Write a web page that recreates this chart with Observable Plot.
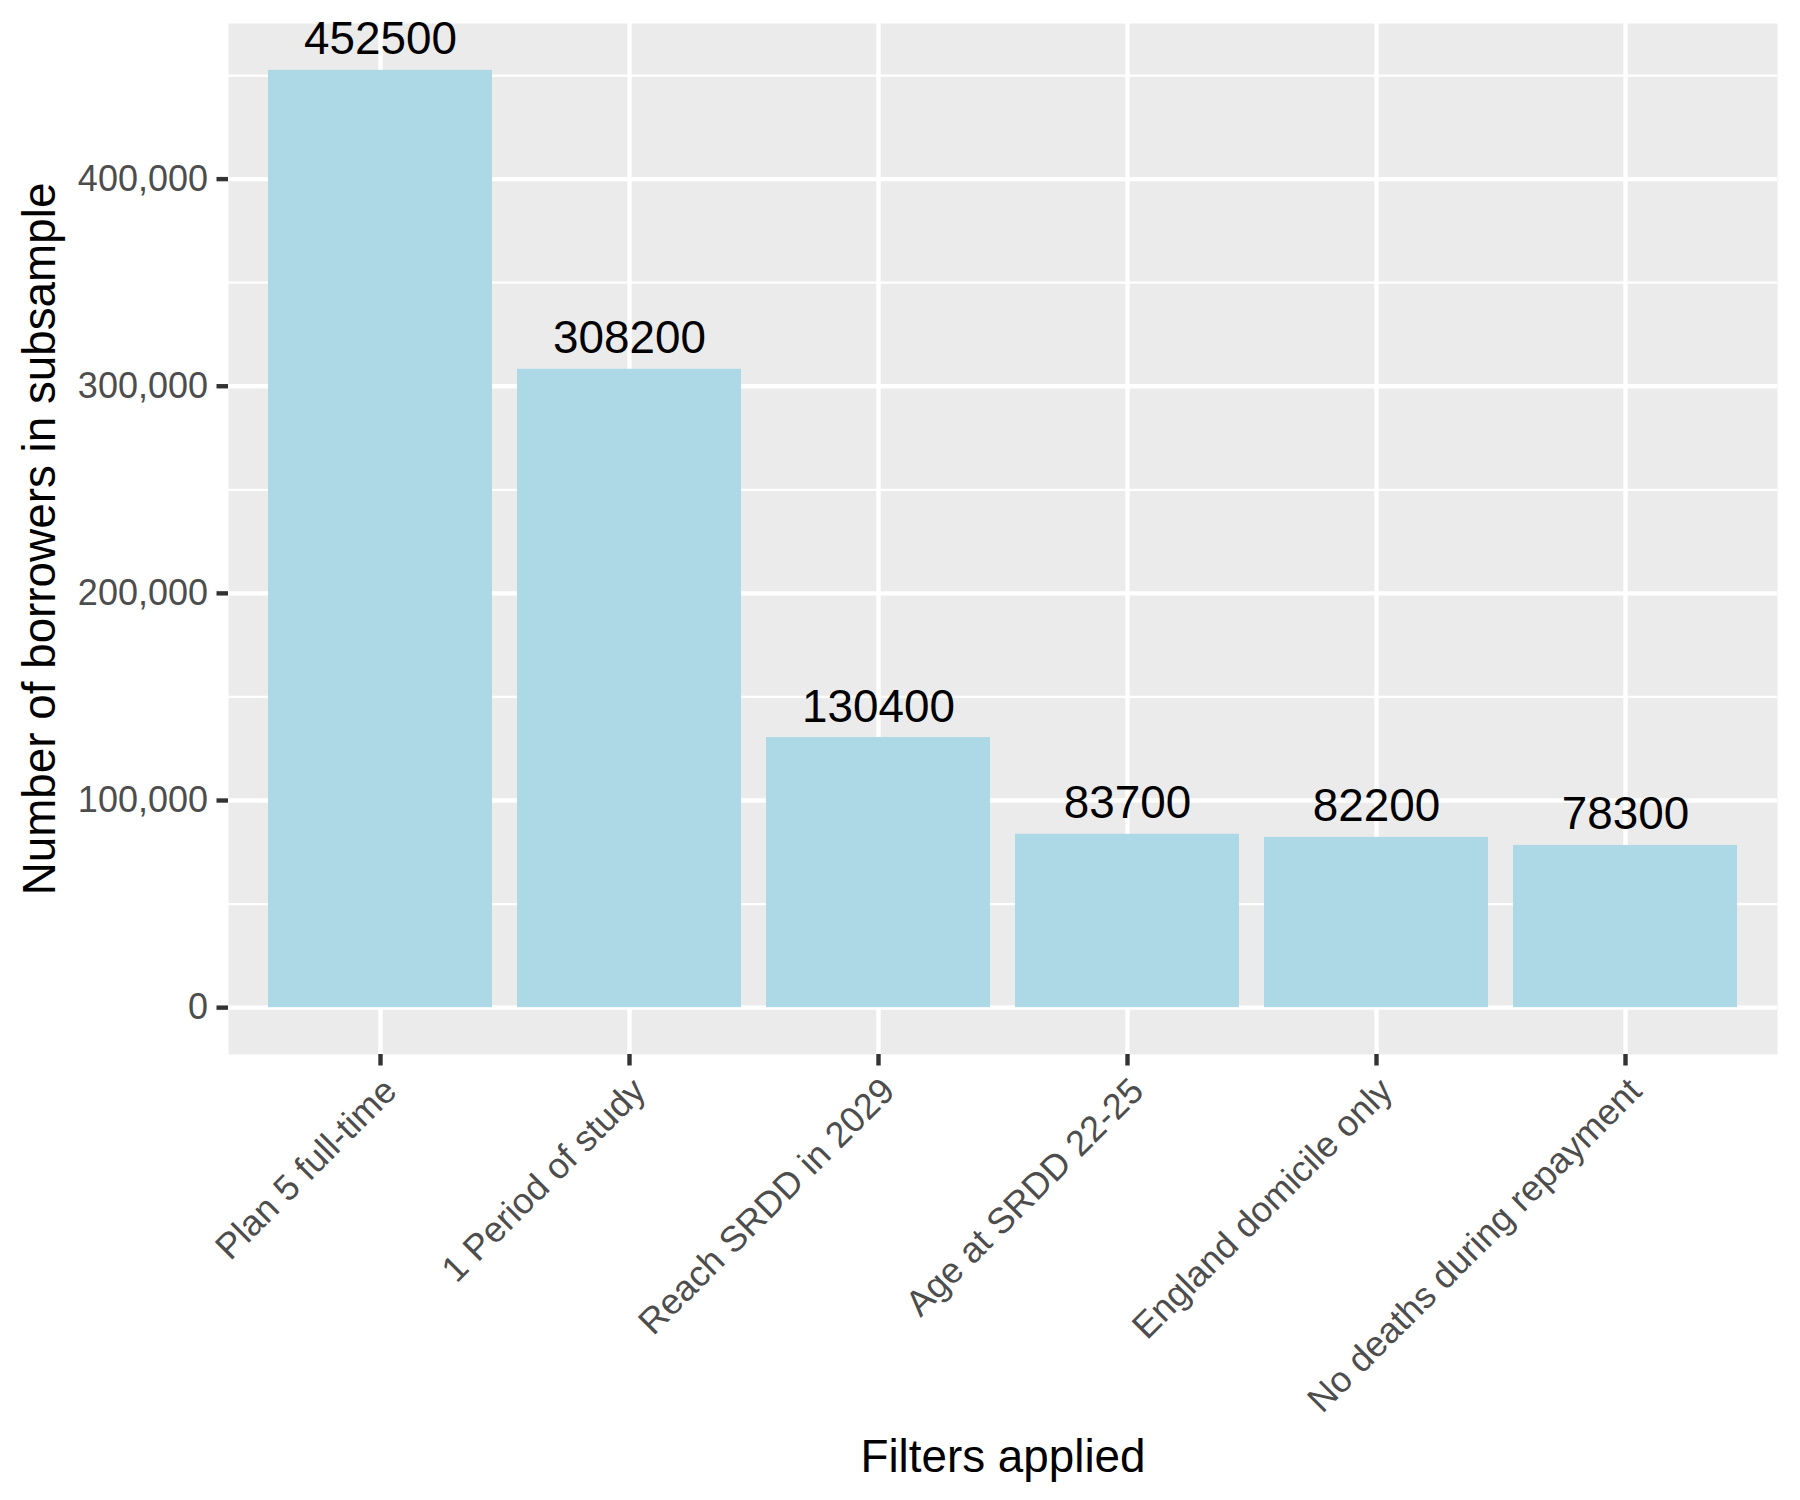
<!DOCTYPE html>
<html>
<head>
<meta charset="utf-8">
<script src="https://cdn.jsdelivr.net/npm/d3@7"></script>
<script src="https://cdn.jsdelivr.net/npm/@observablehq/plot@0.6"></script>
<style>
  html, body { margin: 0; padding: 0; background: #ffffff; }
  #chart { width: 1800px; height: 1500px; }
</style>
</head>
<body>
<div id="chart"></div>
<script>
const filters = [
  "Plan 5 full-time",
  "1 Period of study",
  "Reach SRDD in 2029",
  "Age at SRDD 22-25",
  "England domicile only",
  "No deaths during repayment"
];
const counts = [452500, 308200, 130400, 83700, 82200, 78300];
const yTicks = [0, 100000, 200000, 300000, 400000];
const yMinor = [50000, 150000, 250000, 350000, 450000];
const xTitle = "Filters applied";
const yTitle = "Number of borrowers in subsample";

const data = filters.map((f, i) => ({filter: f, count: counts[i]}));
const maxV = d3.max(counts);
const pad = maxV * 0.05;

const font = "'Liberation Sans', Arial, Helvetica, sans-serif";

const chart = Plot.plot({
  width: 1800,
  height: 1500,
  marginLeft: 228,
  marginRight: 23,
  marginTop: 23,
  marginBottom: 446,
  style: {fontFamily: font, fontSize: "36px", background: "#ffffff"},
  x: {type: "band", domain: filters, paddingInner: 0.1, paddingOuter: 0.15, align: 0.5, label: null},
  y: {domain: [-pad, maxV + pad], label: null},
  marks: [
    Plot.frame({fill: "#EBEBEB", stroke: null}),
    Plot.ruleY(yMinor, {stroke: "#ffffff", strokeWidth: 2.2}),
    Plot.ruleY(yTicks, {stroke: "#ffffff", strokeWidth: 4.4}),
    Plot.gridX({stroke: "#ffffff", strokeOpacity: 1, strokeWidth: 4.4}),
    Plot.barY(data, {x: "filter", y: "count", fill: "#ADD8E6"}),
    Plot.text(data, {
      x: "filter", y: "count", text: d => String(d.count),
      lineAnchor: "bottom", dy: -16, fontSize: 45.8, fill: "#000000"
    }),
    Plot.axisY({
      ticks: yTicks, tickFormat: d3.format(","), tickSize: 11.5, tickPadding: 9,
      stroke: "#333333", strokeWidth: 4.4, fill: "#4D4D4D", label: null, fontSize: 36
    }),
    Plot.axisX({
      tickSize: 11.5, tickPadding: 9, tickRotate: -45, textAnchor: "end", lineAnchor: "top",
      stroke: "#333333", strokeWidth: 4.4, fill: "#4D4D4D", label: null, fontSize: 36
    }),
    Plot.text([yTitle], {
      frameAnchor: "left", text: d => d, rotate: -90, dx: -174,
      fontSize: 45.8, fill: "#000000", textAnchor: "middle", lineAnchor: "bottom"
    }),
    Plot.text([xTitle], {
      frameAnchor: "bottom", text: d => d, dy: 417,
      fontSize: 45.8, fill: "#000000", textAnchor: "middle", lineAnchor: "bottom"
    })
  ]
});

document.getElementById("chart").appendChild(chart);
</script>
</body>
</html>
